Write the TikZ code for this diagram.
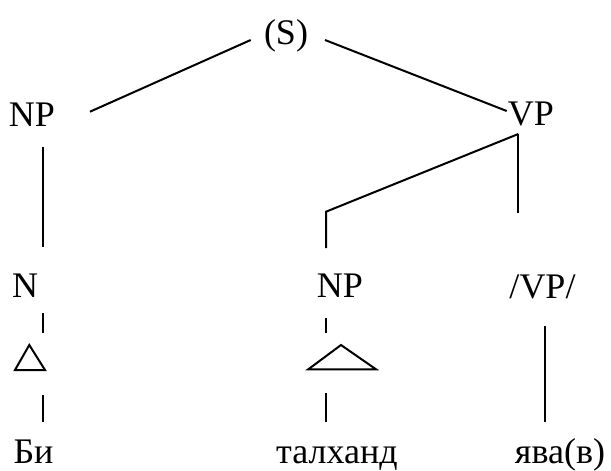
\documentclass[tikz,border=0pt]{standalone}
\usepackage{fontspec}
\setmainfont{Liberation Serif}
\begin{document}
\begin{tikzpicture}[x=1pt,y=-1pt,
  lbl/.style={anchor=base,inner sep=0pt,font=\fontsize{36}{42}\selectfont},
  edge/.style={line width=2pt,line join=miter}]
\useasboundingbox (0,0) rectangle (611,471);
% labels
\node[lbl] (S) at (286,45) {(S)};
\node[lbl] (NPa) at (32,126) {NP};
\node[lbl] (VP) at (531,125) {VP};
\node[lbl] (N) at (25,297) {N};
\node[lbl] (NPb) at (340,297) {NP};
\node[lbl] (VPs) at (542.5,298) {/VP/};
\node[lbl] (Bi) at (33.5,463) {Би};
\node[lbl] (tal) at (337,463) {талханд};
\node[lbl] (yava) at (560,463) {ява(в)};
% coordinates
\coordinate (s1) at (250.7,40);
\coordinate (s2) at (325,40);
\coordinate (npa1) at (90,111.7);
\coordinate (vp1) at (506.7,111);
\coordinate (npav1) at (43.3,146.7);
\coordinate (npav2) at (43.3,246.7);
\coordinate (vpd) at (518.3,134);
\coordinate (vpk) at (326,211.7);
\coordinate (vpk2) at (326,248);
\coordinate (vpv2) at (518.3,212.7);
\coordinate (nd1) at (43.3,313.3);
\coordinate (nd2) at (43.3,332.7);
\coordinate (t1a) at (29.3,345);
\coordinate (t1b) at (15,370);
\coordinate (t1c) at (45,370);
\coordinate (nd3) at (43.3,395);
\coordinate (nd4) at (43.3,421.7);
\coordinate (pd1) at (325.7,318.3);
\coordinate (pd2) at (325.7,333.3);
\coordinate (t2a) at (341,345);
\coordinate (t2b) at (308.3,369.3);
\coordinate (t2c) at (376,369.3);
\coordinate (pd3) at (325.7,393.3);
\coordinate (pd4) at (325.7,421.7);
\coordinate (vv1) at (545,326);
\coordinate (vv2) at (545,421.7);
% connectors
\draw[edge] (npa1) -- (s1);
\draw[edge] (s2) -- (vp1);
\draw[edge] (npav1) -- (npav2);
\draw[edge] (vpd) -- (vpk) -- (vpk2);
\draw[edge] (vpd) -- (vpv2);
\draw[edge] (nd1) -- (nd2);
\draw[edge] (t1a) -- (t1b) -- (t1c) -- cycle;
\draw[edge] (nd3) -- (nd4);
\draw[edge] (pd1) -- (pd2);
\draw[edge] (t2a) -- (t2b) -- (t2c) -- cycle;
\draw[edge] (pd3) -- (pd4);
\draw[edge] (vv1) -- (vv2);
\end{tikzpicture}
\end{document}
